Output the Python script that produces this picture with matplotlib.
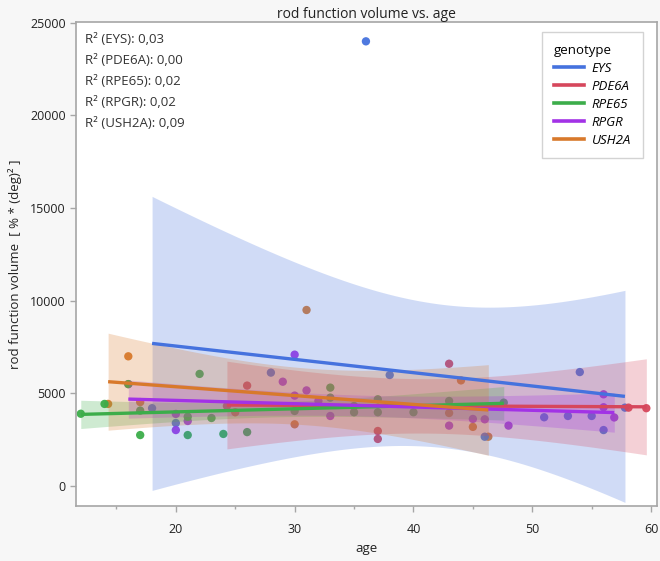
import numpy as np
import matplotlib
matplotlib.use("Agg")
import matplotlib.pyplot as plt
from matplotlib.lines import Line2D

# ---------------- data ----------------
genotypes = ["EYS", "PDE6A", "RPE65", "RPGR", "USH2A"]

eys_age = [18, 20, 28, 36, 38, 46, 51, 53, 54, 55, 56, 57.8]
eys_vol = [4200, 3400, 6120, 24000, 5990, 2660, 3710, 3780, 6150, 3780, 3020, 4230]

pde6a_age = [24.3, 26, 37, 37, 43, 58.1, 59.6]
pde6a_vol = [4320, 5420, 2970, 2540, 6600, 4230, 4200]

rpe65_age = [12, 14, 16, 17, 17, 21, 21, 22, 23, 24, 26, 30, 33, 33, 35, 35, 37, 37, 40, 43, 47.6]
rpe65_vol = [3900, 4430, 5500, 4070, 2750, 3740, 2750, 6050, 3670, 2810, 2910, 4050,
             5310, 4770, 4320, 3980, 4680, 3980, 3980, 4590, 4500]

rpgr_age = [16, 20, 20, 21, 29, 30, 30, 31, 32, 33, 43, 45, 46, 48, 56, 56, 56.9]
rpgr_vol = [5500, 3890, 3020, 3510, 5630, 7090, 4880, 5160, 4590, 3780, 3260, 3620, 3600,
            3260, 4950, 4250, 3700]

ush2a_age = [14.3, 16, 17, 25, 30, 31, 43, 44, 45, 46.3]
ush2a_vol = [4430, 7000, 4530, 3980, 3330, 9500, 3940, 5700, 3190, 2660]

r2_labels = ["0,03", "0,00", "0,02", "0,02", "0,09"]

x_ticks = [20, 30, 40, 50, 60]
x_minor = [15, 25, 35, 45, 55]
y_ticks = [0, 5000, 10000, 15000, 20000, 25000]

colors = {"EYS": "#4572de", "PDE6A": "#d6475c", "RPE65": "#3cad4a",
          "RPGR": "#a232e6", "USH2A": "#d8792b"}

groups = {
    "EYS": (eys_age, eys_vol),
    "PDE6A": (pde6a_age, pde6a_vol),
    "RPE65": (rpe65_age, rpe65_vol),
    "RPGR": (rpgr_age, rpgr_vol),
    "USH2A": (ush2a_age, ush2a_vol),
}
point_order = ["USH2A", "EYS", "PDE6A", "RPGR", "RPE65"]

# two-sided 95% t critical values
T975 = {1: 12.706, 2: 4.303, 3: 3.182, 4: 2.776, 5: 2.571, 6: 2.447, 7: 2.365,
        8: 2.306, 9: 2.262, 10: 2.228, 11: 2.201, 12: 2.179, 13: 2.160, 14: 2.145,
        15: 2.131, 16: 2.120, 17: 2.110, 18: 2.101, 19: 2.093, 20: 2.086,
        21: 2.080, 22: 2.074, 23: 2.069, 24: 2.064, 25: 2.060, 26: 2.056,
        27: 2.052, 28: 2.048, 29: 2.045, 30: 2.042}

plt.rcParams['font.family'] = ['Open Sans', 'DejaVu Sans']

fig = plt.figure(figsize=(6.6, 5.61), dpi=100, facecolor="#f7f7f7")
ax = fig.add_axes([0.1152, 0.098, 0.8803, 0.863])
ax.set_facecolor("white")

# points first (bands drawn over)
for g in point_order:
    a, v = groups[g]
    ax.scatter(a, v, s=36, color=colors[g], edgecolors="none", zorder=2, alpha=0.95)

fits = {}
for g in genotypes:
    a, v = np.asarray(groups[g][0], float), np.asarray(groups[g][1], float)
    n = len(a)
    b1, b0 = np.polyfit(a, v, 1)
    res = v - (b0 + b1 * a)
    s = np.sqrt(np.sum(res ** 2) / (n - 2))
    xm = a.mean()
    sxx = np.sum((a - xm) ** 2)
    xs = np.linspace(a.min(), a.max(), 120)
    yf = b0 + b1 * xs
    hw = T975.get(n - 2, 2.0) * s * np.sqrt(1.0 / n + (xs - xm) ** 2 / sxx)
    ax.fill_between(xs, yf - hw, yf + hw, color=colors[g], alpha=0.25,
                    linewidth=0, zorder=3)
    fits[g] = (b0, b1, a.min(), a.max())
for g in genotypes:
    b0, b1, lo, hi = fits[g]
    xs = np.array([lo, hi])
    ax.plot(xs, b0 + b1 * xs, color=colors[g], lw=2.4, zorder=4,
            solid_capstyle="butt")

ax.set_xlim(11.6, 60.5)
ax.set_ylim(-1080, 25050)
ax.set_xticks(x_ticks)
ax.set_xticks(x_minor, minor=True)
ax.set_yticks(y_ticks)
ax.set_yticklabels([str(t) for t in y_ticks])
for sp in ax.spines.values():
    sp.set_color("#a6a6a6")
    sp.set_linewidth(1.2)
ax.tick_params(axis="both", which="both", color="#a6a6a6", width=1.0,
               labelsize=9, labelcolor="#222222")
ax.tick_params(axis="x", which="major", length=4.5, pad=8)
ax.tick_params(axis="x", which="minor", length=2.5)
ax.tick_params(axis="y", length=4.5, pad=3)

ax.set_title("rod function volume vs. age", fontsize=10, color="#222222", pad=3)
ax.set_xlabel("age", fontsize=9.5, color="#222222", labelpad=4)
ax.set_ylabel("rod function volume  [ % * (deg)² ]", fontsize=9.5, color="#222222",
              labelpad=6)

for i, g in enumerate(genotypes):
    ax.text(0.016, 0.963 - i * 0.0434, "R² (%s): %s" % (g, r2_labels[i]),
            transform=ax.transAxes, fontsize=9.5, color="#333333", va="center")

handles = [Line2D([0], [0], color=colors[g], lw=2.6) for g in genotypes]
leg = ax.legend(handles, genotypes, title="genotype", loc="upper right",
                bbox_to_anchor=(0.982, 0.988), frameon=True, fancybox=False,
                fontsize=9.5, title_fontsize=9.5, handlelength=2.3, labelspacing=0.38,
                borderpad=0.9, handletextpad=0.55, borderaxespad=0.3)
leg.get_frame().set_edgecolor("#c8c8c8")
leg.get_frame().set_linewidth(1.0)
leg._legend_box.align = "left"
for t in leg.get_texts():
    t.set_fontstyle("italic")

fig.savefig("out.png", dpi=100, facecolor=fig.get_facecolor())
